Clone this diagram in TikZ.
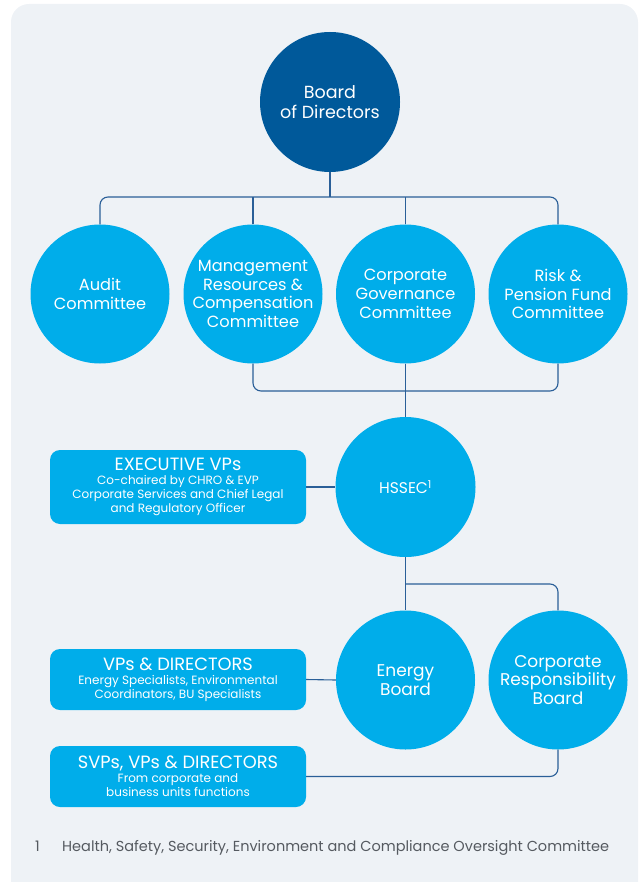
\documentclass[tikz,border=0pt]{standalone}
\usepackage{fontspec}
\setmainfont{Poppins}
\definecolor{panel}{HTML}{EEF2F6}
\definecolor{darkb}{HTML}{00599A}
\definecolor{lightb}{HTML}{00ADEA}
\definecolor{linec}{HTML}{2A5F98}
\definecolor{foot}{HTML}{555A60}
\newcommand\ttlf{\fontsize{17.8}{19}\selectfont}
\begin{document}
\begin{tikzpicture}[x=1pt,y=-1pt,
  circ/.style={circle, fill=lightb, minimum size=139pt, inner sep=0pt, align=center, text=white, font=\fontsize{16.2}{18.7}\selectfont},
  bigcirc/.style={circ, fill=darkb, minimum size=140pt, font=\fontsize{17.5}{19.3}\selectfont},
  infobox/.style={rectangle, rounded corners=10pt, fill=lightb, minimum width=256pt, inner sep=0pt, align=center, text=white, font=\fontsize{12}{14}\selectfont},
  conn/.style={draw=linec, line width=1.1pt},
]
\useasboundingbox (0,0) rectangle (640,882);
\fill[panel, rounded corners=18pt] (11,4) rectangle (638,900);

\node[bigcirc] (board) at (330,102) {Board\\of Directors};
\node[circ] (aud) at (100,294) {Audit\\Committee};
\node[circ] (mgmt) at (253,294) {Management\\Resources \&\\Compensation\\Committee};
\node[circ] (gov) at (405.5,294) {Corporate\\Governance\\Committee};
\node[circ] (risk) at (558,294) {Risk \&\\Pension Fund\\Committee};
\node[circ, minimum size=140pt, font=\fontsize{15.5}{18}\selectfont] (hssec) at (405.5,487) {HSSEC\textsuperscript{1}};
\node[circ, font=\fontsize{17}{18.5}\selectfont] (energy) at (405.5,680) {Energy\\Board};
\node[circ, font=\fontsize{17}{18.5}\selectfont] (crb) at (558,680) {Corporate\\Responsibility\\Board};

\node[infobox, minimum height=74pt] (exec) at (178,487) {{\ttlf EXECUTIVE VPs}\\[0pt]
 Co-chaired by CHRO \& EVP\\Corporate Services and Chief Legal\\and Regulatory Officer};
\node[infobox, minimum height=61pt] (vps) at (178,679.5) {{\ttlf VPs \& DIRECTORS}\\[0pt]
 Energy Specialists, Environmental\\Coordinators, BU Specialists};
\node[infobox, minimum height=61pt] (svps) at (178,776.5) {{\ttlf SVPs, VPs \& DIRECTORS}\\[0pt]
 From corporate and\\business units functions};

\coordinate (bus1) at (330,197);
\coordinate (bus2) at (405.5,391);
\coordinate (bus3) at (405.5,584);

\draw[conn] (board) -- (bus1);
\draw[conn, rounded corners=8pt] (aud.north) |- (bus1) -| (risk.north);
\draw[conn] (mgmt.north) -- (mgmt.north |- bus1);
\draw[conn] (gov.north) -- (gov.north |- bus1);
\draw[conn, rounded corners=8pt] (mgmt.south) |- (bus2) -| (risk.south);
\draw[conn] (gov.south) -- (hssec.north);
\draw[conn] (exec.east) -- (hssec.west);
\draw[conn] (hssec.south) -- (energy.north);
\draw[conn, rounded corners=8pt] (bus3) -| (crb.north);
\draw[conn] (vps.east) -- (energy.west);
\draw[conn, rounded corners=8pt] (svps.east) -| (crb.south);

\node[anchor=base, text=foot, font=\fontsize{14.5}{16}\selectfont] (fn1) at (37.5,851) {1};
\node[anchor=base west, inner sep=0pt, text=foot, font=\fontsize{14.5}{16}\selectfont] (fnt) at (62,851) {Health, Safety, Security, Environment and Compliance Oversight Committee};
\end{tikzpicture}
\end{document}
